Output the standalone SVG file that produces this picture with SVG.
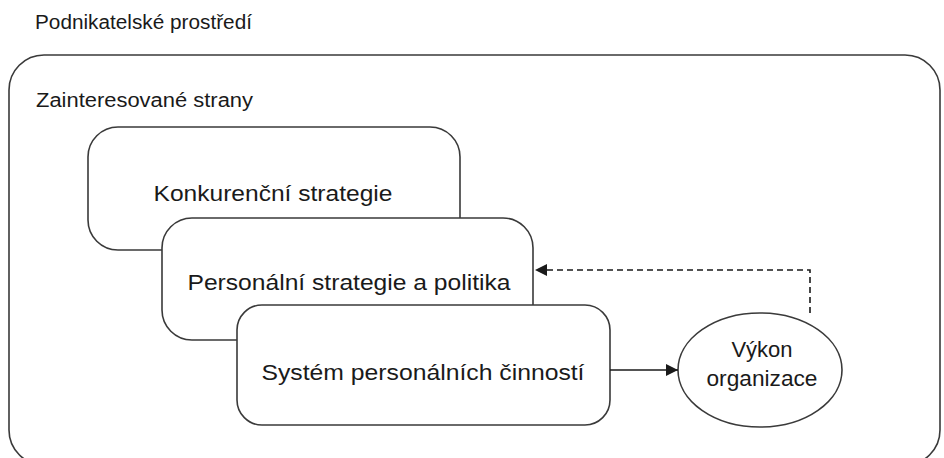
<svg xmlns="http://www.w3.org/2000/svg" width="944" height="458" viewBox="0 0 944 458">
<defs>
<style>
.t{font-family:"Liberation Sans",Arial,sans-serif;fill:#1a1a1a;}
.h{font-size:20px;}
.b{font-size:22px;text-anchor:middle;}
.box{fill:#fff;stroke:#3a3a3a;stroke-width:1.6;}
.ln{fill:none;stroke:#1a1a1a;stroke-width:1.6;}
.dash{stroke-dasharray:6 4;}
</style>
<marker id="ah" viewBox="0 0 12 12" refX="12" refY="6" markerWidth="12" markerHeight="12" markerUnits="userSpaceOnUse" orient="auto">
<path d="M0,0 L12,6 L0,12 z" fill="#1a1a1a"/>
</marker>
</defs>
<rect width="944" height="458" fill="#fff"/>
<g id="env">
<text class="t h" x="35" y="29" textLength="217" lengthAdjust="spacingAndGlyphs">Podnikatelské prostředí</text>
<rect class="box" x="9" y="55" width="931" height="410" rx="35"/>
<text class="t h" x="36" y="107" textLength="217" lengthAdjust="spacingAndGlyphs">Zainteresované strany</text>
</g>
<g id="konkurencni">
<rect class="box" x="88" y="127" width="372" height="123" rx="30"/>
<text class="t b" x="273" y="201" textLength="239" lengthAdjust="spacingAndGlyphs">Konkurenční strategie</text>
</g>
<g id="personalni">
<rect class="box" x="162" y="218" width="371" height="122" rx="30"/>
<text class="t b" x="349" y="290" textLength="323" lengthAdjust="spacingAndGlyphs">Personální strategie a politika</text>
</g>
<g id="system">
<rect class="box" x="237" y="305" width="373" height="120" rx="25"/>
<text class="t b" x="423" y="380" textLength="323" lengthAdjust="spacingAndGlyphs">Systém personálních činností</text>
</g>
<g id="vykon">
<ellipse class="box" cx="760" cy="370" rx="82" ry="57"/>
<text class="t b" x="762" y="357">Výkon</text>
<text class="t b" x="762" y="386" textLength="111" lengthAdjust="spacingAndGlyphs">organizace</text>
</g>
<g id="connectors">
<line class="ln" x1="610" y1="370" x2="678" y2="370" marker-end="url(#ah)"/>
<path class="ln dash" d="M810,313 V270 H535" marker-end="url(#ah)"/>
</g>
</svg>
